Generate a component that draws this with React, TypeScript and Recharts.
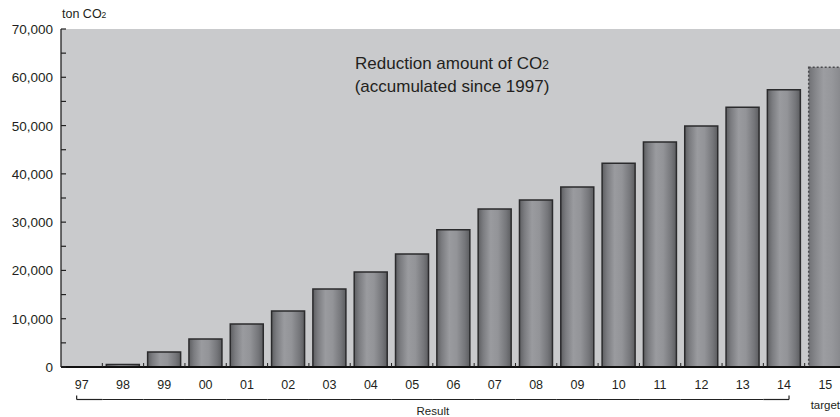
import React from 'react';
import { BarChart, Bar, XAxis, YAxis, CartesianGrid, Cell } from 'recharts';

const years = ['97', '98', '99', '00', '01', '02', '03', '04', '05', '06', '07', '08', '09', '10', '11', '12', '13', '14', '15'];
const reduction = [0, 500, 3100, 5800, 8900, 11600, 16150, 19700, 23400, 28400, 32700, 34600, 37300, 42200, 46600, 49900, 53800, 57400, 62100];
const yTicks = [0, 5000, 10000, 15000, 20000, 25000, 30000, 35000, 40000, 45000, 50000, 55000, 60000, 65000, 70000];
const resultLabel = 'Result';
const targetLabel = 'target';
const titleLines = ['Reduction amount of CO', '(accumulated since 1997)'];

const data = years.map((y, i) => ({ year: y, value: reduction[i] }));
const lastResultIndex = years.indexOf('14');
const targetIndex = years.indexOf('15');
const resultMidIndex = Math.floor(lastResultIndex / 2);

const FONT = '"Liberation Sans", Arial, Helvetica, sans-serif';
const TEXT = '#231f20';

const YTick = (props: any) => {
  const { x, y, payload } = props;
  const v = payload.value as number;
  const major = v % 10000 === 0;
  return (
    <g>
      <line x1={x + 8} x2={x + 13} y1={y} y2={y} stroke="#222" strokeWidth={1.2} />
      {major && (
        <text x={x} y={y} dy={5} textAnchor="end" fontSize={13.5} fontFamily={FONT} fill={TEXT}>
          {v.toLocaleString('en-US')}
        </text>
      )}
    </g>
  );
};

const XTick = (props: any) => {
  const { x, y, payload, index } = props;
  const off = payload && typeof payload.offset === 'number' && payload.offset > 0 ? payload.offset : 20.6;
  const by = y + 32.5;
  const parts: React.ReactNode[] = [];
  if (index > 0) {
    parts.push(<line key="t" x1={x - off} x2={x - off} y1={y - 4} y2={y} stroke="#222" strokeWidth={1} />);
  }
  parts.push(
    <text key="l" x={x} y={y} dy={22} textAnchor="middle" fontSize={12.5} fontFamily={FONT} fill={TEXT}>
      {payload.value}
    </text>
  );
  if (index <= lastResultIndex) {
    const x1 = index === 0 ? x - 5 : x - off;
    const x2 = index === lastResultIndex ? x + 5 : x + off;
    parts.push(<line key="b" x1={x1} x2={x2} y1={by} y2={by} stroke="#222" strokeWidth={1.2} />);
    if (index === 0) {
      parts.push(<line key="bl" x1={x1} x2={x1} y1={by - 4} y2={by} stroke="#222" strokeWidth={1.2} />);
    }
    if (index === lastResultIndex) {
      parts.push(<line key="br" x1={x2} x2={x2} y1={by - 4} y2={by} stroke="#222" strokeWidth={1.2} />);
    }
    if (index === resultMidIndex) {
      parts.push(
        <text key="r" x={x + off} y={by} dy={15} textAnchor="middle" fontSize={11.5} fontFamily={FONT} fill={TEXT}>
          {resultLabel}
        </text>
      );
    }
  }
  if (index === targetIndex) {
    parts.push(
      <text key="tg" x={x} y={by} dy={9} textAnchor="middle" fontSize={11.5} fontFamily={FONT} fill={TEXT}>
        {targetLabel}
      </text>
    );
  }
  return <g>{parts}</g>;
};

export default function App() {
  return (
    <div style={{ position: 'absolute', left: 0, top: 0, width: 840, height: 417, overflow: 'hidden', background: '#fff' }}>
      <BarChart width={860} height={417} data={data} margin={{ top: 29, right: 14, bottom: 0, left: 0 }} barSize={33}>
        <defs>
          <linearGradient id="barGrad" x1="0" y1="0" x2="1" y2="0">
            <stop offset="0" stopColor="#5e5f62" />
            <stop offset="0.15" stopColor="#7b7c80" />
            <stop offset="0.38" stopColor="#9a9b9f" />
            <stop offset="0.6" stopColor="#939498" />
            <stop offset="0.85" stopColor="#75767a" />
            <stop offset="1" stopColor="#5c5d60" />
          </linearGradient>
          <linearGradient id="barGradT" x1="0" y1="0" x2="1" y2="0">
            <stop offset="0" stopColor="#707175" />
            <stop offset="0.2" stopColor="#85868a" />
            <stop offset="0.45" stopColor="#9c9da1" />
            <stop offset="0.7" stopColor="#96979b" />
            <stop offset="1" stopColor="#86878b" />
          </linearGradient>
        </defs>
        <CartesianGrid horizontal={false} vertical={false} fill="#c9cacc" />
        <XAxis
          dataKey="year"
          height={50}
          interval={0}
          tickSize={0}
          tickMargin={0}
          tickLine={false}
          axisLine={{ stroke: '#111', strokeWidth: 2 }}
          tick={<XTick />}
        />
        <YAxis
          width={61}
          domain={[0, 70000]}
          ticks={yTicks}
          interval={0}
          tickSize={0}
          tickMargin={8}
          tickLine={false}
          axisLine={{ stroke: '#222', strokeWidth: 1.3 }}
          tick={<YTick />}
        />
        <Bar dataKey="value" isAnimationActive={false} stroke="#2b2b2d" strokeWidth={1.5}>
          {data.map((d, i) =>
            i === targetIndex ? (
              <Cell key={d.year} fill="url(#barGradT)" stroke="#4a4a4d" strokeDasharray="2 2" strokeWidth={1.5} />
            ) : (
              <Cell key={d.year} fill="url(#barGrad)" />
            )
          )}
        </Bar>
      </BarChart>
      <div style={{ position: 'absolute', left: 62, top: 6, fontFamily: FONT, fontSize: 12.5, color: TEXT, lineHeight: '16px', whiteSpace: 'nowrap' }}>
        ton CO<span style={{ fontSize: 8.5 }}>2</span>
      </div>
      <div style={{ position: 'absolute', left: 302, top: 53, width: 300, textAlign: 'center', fontFamily: FONT, fontSize: 17, color: TEXT, lineHeight: '21px' }}>
        <div>
          {titleLines[0]}
          <span style={{ fontSize: 12 }}>2</span>
        </div>
        <div>{titleLines[1]}</div>
      </div>
    </div>
  );
}
